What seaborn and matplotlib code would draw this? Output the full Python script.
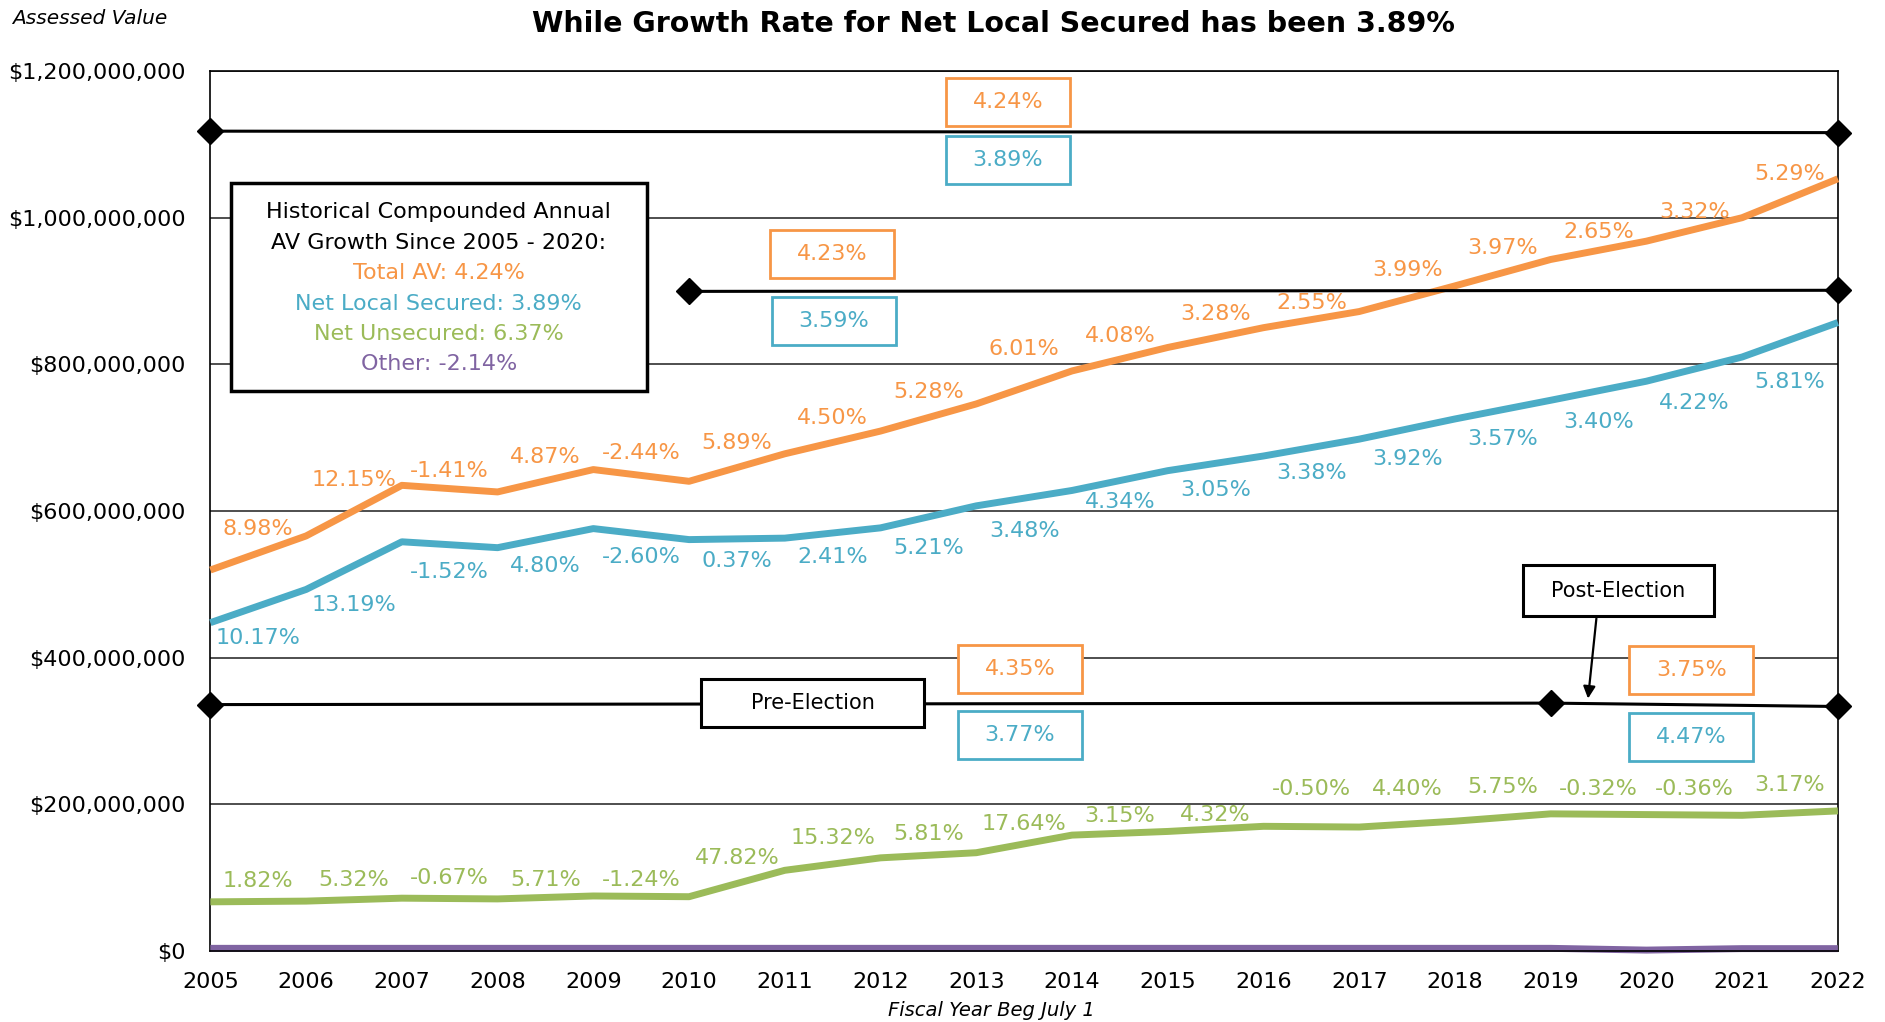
import matplotlib
matplotlib.use("Agg")
import matplotlib.pyplot as plt
import seaborn as sns
import pandas as pd
from matplotlib.patches import Rectangle
from matplotlib.ticker import FuncFormatter

# ---- data (assessed value, $ millions) ----
years = list(range(2005, 2023))
total_av = [519.5, 566, 635, 626, 656.5, 640.5, 678, 709, 746, 791, 823, 850, 872, 907, 943, 968, 1000, 1053]
net_local_secured = [447.7, 493, 558, 550, 576, 561, 563, 577, 607, 628, 655, 675, 698, 725.5, 751, 777, 810, 857]
net_unsecured = [67, 68, 72, 71, 75, 74, 110, 127, 134, 158, 163, 170, 169, 177, 187, 186, 185, 191]
other = [3.6, 3.6, 3.6, 3.6, 3.6, 3.6, 3.6, 3.6, 3.6, 3.6, 3.6, 3.6, 3.6, 3.6, 3.6, 1.2, 3.2, 3.2]

# year-over-year growth labels
total_growth = ["8.98%", "12.15%", "-1.41%", "4.87%", "-2.44%", "5.89%", "4.50%", "5.28%", "6.01%",
                "4.08%", "3.28%", "2.55%", "3.99%", "3.97%", "2.65%", "3.32%", "5.29%"]
secured_growth = ["10.17%", "13.19%", "-1.52%", "4.80%", "-2.60%", "0.37%", "2.41%", "5.21%", "3.48%",
                  "4.34%", "3.05%", "3.38%", "3.92%", "3.57%", "3.40%", "4.22%", "5.81%"]
unsecured_growth = ["1.82%", "5.32%", "-0.67%", "5.71%", "-1.24%", "47.82%", "15.32%", "5.81%", "17.64%",
                    "3.15%", "4.32%", "-0.50%", "4.40%", "5.75%", "-0.32%", "-0.36%", "3.17%"]

# compounded-growth reference lines ($ millions)
cagr_full_years = [2005, 2022]
cagr_full_level = [1118, 1116]
cagr_recent_years = [2010, 2022]
cagr_recent_level = [899.5, 901]
cagr_election_years = [2005, 2019, 2022]
cagr_election_level = [336, 338, 333.4]

series_names = ["Total AV", "Net Local Secured", "Net Unsecured", "Other"]
colors = {"Total AV": "#F79646", "Net Local Secured": "#4BACC6",
          "Net Unsecured": "#9BBB59", "Other": "#8064A2"}

frames = []
for name, vals in zip(series_names, [total_av, net_local_secured, net_unsecured, other]):
    frames.append(pd.DataFrame({"year": years, "value": [v * 1e6 for v in vals], "series": name}))
df = pd.concat(frames, ignore_index=True)

sns.set_theme(style="white")
plt.rcParams["font.family"] = ["DejaVu Sans"]
plt.rcParams["text.color"] = "black"
plt.rcParams["xtick.color"] = "black"
plt.rcParams["ytick.color"] = "black"

fig = plt.figure(figsize=(18.85, 10.22), dpi=100)
ax = fig.add_axes([0.1116, 0.0695, 0.8634, 0.861])

sns.lineplot(data=df, x="year", y="value", hue="series", hue_order=series_names,
             palette=colors, linewidth=5, legend=False, ax=ax, zorder=4)
for line in ax.get_lines():
    line.set_clip_on(False)
    line.set_solid_capstyle("butt")

# reference lines with diamond end markers
for xs, ys in [(cagr_full_years, cagr_full_level),
               (cagr_recent_years, cagr_recent_level),
               (cagr_election_years, cagr_election_level)]:
    ax.plot(xs, [v * 1e6 for v in ys], color="black", lw=2.2, marker="D",
            markersize=13, clip_on=False, zorder=5)

# growth labels at the middle of each segment (vertical offsets in points)
total_dy = [17, 22, 12.7, 17, 16.3, 18, 17.3, 18.4, 27.8, 16.7, 17.3, 11.8, 21, 17.6, 13, 12.7, 17.2]
secured_dy = [-23, -28.3, -19.3, -20, -16.8, -15.7, -17.4, -22.5, -23.8, -15.6, -18.9, -18.5,
              -21.8, -21, -22.5, -24.3, -30.6]
unsecured_dy = [14.4, 14.3, 15.1, 12.7, 12, 18.1, 18.5, 15.3, 14.5, 12.5, 9.7, 27.1, 25.1, 22,
                17.8, 18.7, 20.5]

def growth_labels(vals, labels, color, offsets):
    for i, (lab, dy) in enumerate(zip(labels, offsets)):
        xm = (years[i] + years[i + 1]) / 2
        ym = (vals[i] + vals[i + 1]) / 2 * 1e6
        ax.annotate(lab, (xm, ym), xytext=(0, dy), textcoords="offset points",
                    ha="center", va="center", color=color, fontsize=16, zorder=6)

growth_labels(total_av, total_growth, colors["Total AV"], total_dy)
growth_labels(net_local_secured, secured_growth, colors["Net Local Secured"], secured_dy)
growth_labels(net_unsecured, unsecured_growth, colors["Net Unsecured"], unsecured_dy)

# axes styling
ax.set_xlim(2005, 2022)
ax.set_ylim(0, 1.2e9)
ax.set_xticks(years)
ax.set_yticks([i * 2e8 for i in range(7)])
ax.yaxis.set_major_formatter(FuncFormatter(lambda v, p: "${:,.0f}".format(v)))
ax.tick_params(axis="y", direction="out", length=13, width=1.2, color="black", pad=5,
               labelsize=16, labelcolor="black")
ax.tick_params(axis="x", direction="out", length=4, width=1.2, color="black", pad=11,
               labelsize=16, labelcolor="black")
ax.yaxis.grid(True, color="#404040", lw=1.3)
ax.set_axisbelow(True)
for s in ["left", "right", "top", "bottom"]:
    ax.spines[s].set_visible(True)
    ax.spines[s].set_color("black")
    ax.spines[s].set_linewidth(1.2)
ax.spines["bottom"].set_zorder(6)
ax.set_xlabel("")
ax.set_ylabel("")

# boxed compounded-growth annotations
def boxed(cx, cy, w, h, text, color, fs=16, lw=2.0):
    ax.add_patch(Rectangle((cx - w / 2, cy - h / 2), w, h, transform=ax.transAxes,
                           facecolor="white", edgecolor=color, lw=lw, zorder=7, clip_on=False))
    ax.text(cx, cy, text, transform=ax.transAxes, ha="center", va="center",
            color=color, fontsize=fs, zorder=8)

bw, bh = 0.0761, 0.0545
boxed(0.490, 0.965, bw, bh, "4.24%", colors["Total AV"])
boxed(0.490, 0.899, bw, bh, "3.89%", colors["Net Local Secured"])
boxed(0.382, 0.792, bw, bh, "4.23%", colors["Total AV"])
boxed(0.383, 0.716, bw, bh, "3.59%", colors["Net Local Secured"])
boxed(0.4974, 0.3205, bw, bh, "4.35%", colors["Total AV"])
boxed(0.4974, 0.245, bw, bh, "3.77%", colors["Net Local Secured"])
boxed(0.910, 0.319, bw, bh, "3.75%", colors["Total AV"])
boxed(0.910, 0.243, bw, bh, "4.47%", colors["Net Local Secured"])
boxed(0.370, 0.282, 0.1366, 0.0545, "Pre-Election", "black", fs=15, lw=2.2)
boxed(0.8652, 0.4096, 0.1174, 0.057, "Post-Election", "black", fs=15, lw=2.2)
ax.annotate("", xy=(0.8463, 0.2837), xytext=(0.8518, 0.381), xycoords="axes fraction",
            arrowprops=dict(arrowstyle="-|>", color="black", lw=1.6, mutation_scale=18),
            zorder=8)

# summary box
ax.add_patch(Rectangle((0.01256, 0.6366), 0.2555, 0.2364, transform=ax.transAxes,
                       facecolor="white", edgecolor="black", lw=2.5, zorder=7))
summary = [("Historical Compounded Annual", "black"),
           ("AV Growth Since 2005 - 2020:", "black"),
           ("Total AV: 4.24%", colors["Total AV"]),
           ("Net Local Secured: 3.89%", colors["Net Local Secured"]),
           ("Net Unsecured: 6.37%", colors["Net Unsecured"]),
           ("Other: -2.14%", colors["Other"])]
for (txt, c), yy in zip(summary, [0.840, 0.8046, 0.7705, 0.7350, 0.7008, 0.6667]):
    ax.text(0.1403, yy, txt, transform=ax.transAxes, ha="center", va="center",
            color=c, fontsize=16, zorder=8)

# titles
fig.text(0.527, 0.9765, "While Growth Rate for Net Local Secured has been 3.89%",
         ha="center", va="center", fontsize=20.5, fontweight="bold")
fig.text(0.0064, 0.982, "Assessed Value", ha="left", va="center", fontsize=14.5, style="italic")
fig.text(0.526, 0.0117, "Fiscal Year Beg July 1", ha="center", va="center", fontsize=14, style="italic")

fig.savefig("out.png", dpi=100)
